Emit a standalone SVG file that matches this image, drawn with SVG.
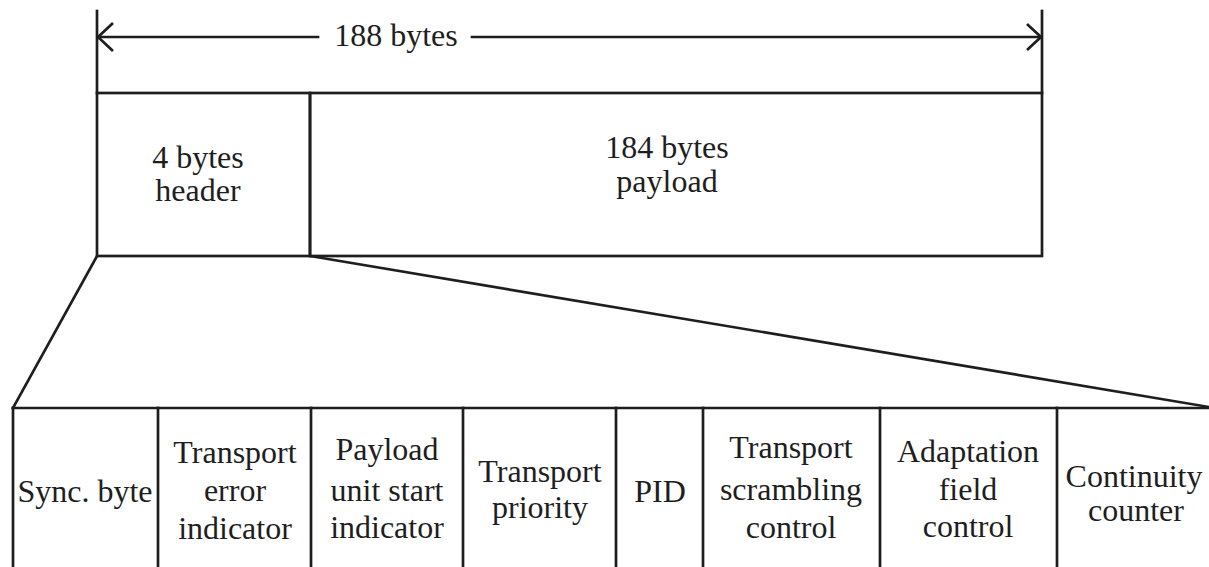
<svg xmlns="http://www.w3.org/2000/svg" width="1209" height="567" viewBox="0 0 1209 567">
<defs>
<style>
.ln{stroke:#1e1e1e;stroke-width:2.7;fill:none;stroke-linecap:square}
.t{font-family:"Liberation Serif","Times New Roman",serif;font-size:32px;fill:#1e1e1e;text-anchor:middle}
</style>
</defs>
<rect width="1209" height="567" fill="#ffffff"/>
<g id="connectors">
<line class="ln" x1="97" y1="11" x2="97" y2="93"/>
<line class="ln" x1="1042" y1="11" x2="1042" y2="93"/>
<line class="ln" x1="98" y1="37" x2="318" y2="37"/>
<line class="ln" x1="472" y1="37" x2="1041" y2="37"/>
<polyline class="ln" points="112,24 98,37 112,50" stroke-linecap="round"/>
<polyline class="ln" points="1028,25 1041,37 1028,49" stroke-linecap="round"/>
<text class="t" x="396" y="46">188 bytes</text>
<line class="ln" x1="97" y1="256" x2="13" y2="408"/>
<line class="ln" x1="310" y1="256" x2="1209" y2="407"/>
</g>
<g id="header">
<rect class="ln" x="97" y="93" width="213" height="163"/>
<text class="t" x="198" y="168">4 bytes</text>
<text class="t" x="198" y="201">header</text>
</g>
<g id="payload">
<rect class="ln" x="310" y="93" width="732" height="163"/>
<text class="t" x="667" y="158">184 bytes</text>
<text class="t" x="667" y="192">payload</text>
</g>
<g id="fields">
<line class="ln" x1="13" y1="408" x2="1209" y2="408"/>
<line class="ln" x1="13" y1="408" x2="13" y2="570"/>
</g>
<g id="sync">
<line class="ln" x1="158" y1="408" x2="158" y2="570"/>
<text class="t" x="85" y="502">Sync. byte</text>
</g>
<g id="tei">
<line class="ln" x1="311" y1="408" x2="311" y2="570"/>
<text class="t" x="235" y="463">Transport</text>
<text class="t" x="235" y="501">error</text>
<text class="t" x="235" y="539">indicator</text>
</g>
<g id="pusi">
<line class="ln" x1="463" y1="408" x2="463" y2="570"/>
<text class="t" x="387" y="460">Payload</text>
<text class="t" x="387" y="501">unit start</text>
<text class="t" x="387" y="538">indicator</text>
</g>
<g id="tp">
<line class="ln" x1="616" y1="408" x2="616" y2="570"/>
<text class="t" x="540" y="482">Transport</text>
<text class="t" x="540" y="518">priority</text>
</g>
<g id="pid">
<line class="ln" x1="703" y1="408" x2="703" y2="570"/>
<text class="t" x="660" y="502">PID</text>
</g>
<g id="tsc">
<line class="ln" x1="880" y1="408" x2="880" y2="570"/>
<text class="t" x="791" y="458">Transport</text>
<text class="t" x="791" y="500">scrambling</text>
<text class="t" x="791" y="538">control</text>
</g>
<g id="afc">
<line class="ln" x1="1057" y1="408" x2="1057" y2="570"/>
<text class="t" x="968" y="462">Adaptation</text>
<text class="t" x="968" y="500">field</text>
<text class="t" x="968" y="537">control</text>
</g>
<g id="cc">
<text class="t" x="1134" y="487">Continuity</text>
<text class="t" x="1136" y="521">counter</text>
</g>
</svg>
